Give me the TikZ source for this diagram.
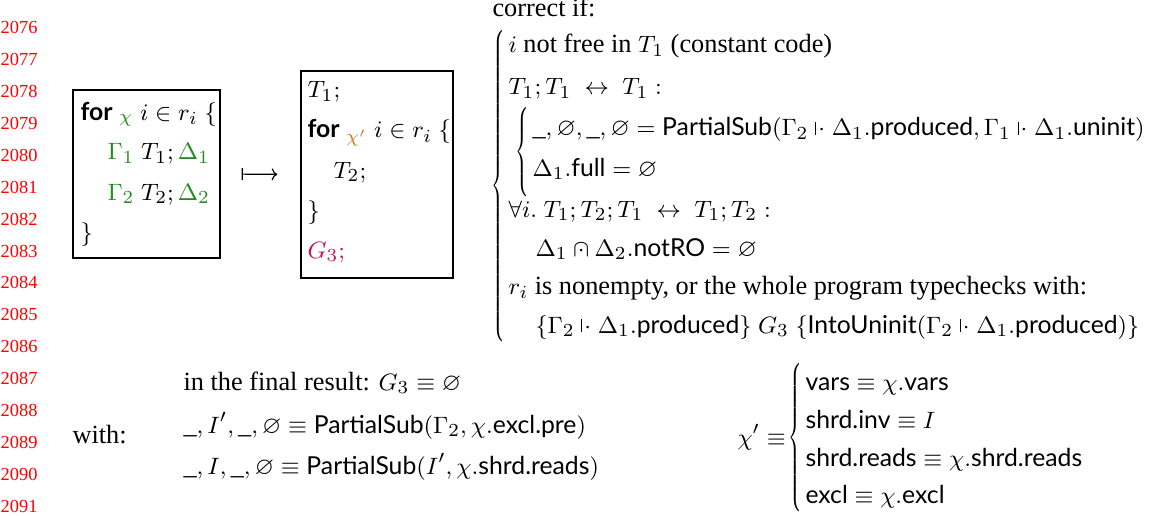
\documentclass[tikz,border=0pt]{standalone}
\usepackage{amsmath,amssymb}
\usepackage{fontspec}
\setmainfont{Liberation Serif}
\setsansfont[Scale=0.94]{Lato}
\DeclareMathSizes{10}{9.4}{6.8}{5}
\usetikzlibrary{arrows.meta,fit}
\definecolor{lnRed}{HTML}{FF0000}
\definecolor{chiGreen}{HTML}{228B22}
\definecolor{chiOrange}{HTML}{CC7A22}
\definecolor{gCrimson}{HTML}{C8124F}
\newcommand{\fn}[1]{\textsf{#1}}
\newcommand{\pvd}{\mathrel{\rule[0.1ex]{0.35pt}{1.1ex}\mkern1.5mu\cdot}}
\newcommand{\capdt}{\mathbin{\text{\ooalign{$\cap$\cr\hidewidth$\cdot$\hidewidth\cr}}}}
\newcommand{\tallbrace}[1]{{\delimiterfactor=1000 \delimitershortfall=0pt \nulldelimiterspace=0pt
  \scalebox{0.6}[1]{$\left\{\vcenter{\hbox{\rule{0pt}{#1}}}\right.$}}}
\tikzset{
  tline/.style={anchor=base west, inner sep=0pt},
  lnum/.style={anchor=base east, inner sep=0pt, text=lnRed, font=\fontsize{7}{8}\selectfont},
  codebox/.style={draw, line width=0.5pt, inner sep=0pt},
  bracenode/.style={anchor=east, inner sep=0pt},
  mapsto/.style={{Bar[width=4.5pt]}-{To[length=2.2pt,width=4.5pt]}, line width=0.45pt}
}
\begin{document}
\begin{tikzpicture}[x=0.38pt, y=-0.38pt, font=\fontsize{10}{12}\selectfont]
  \useasboundingbox (0,0) rectangle (1171,515);
  \foreach \k in {0,...,15} {
    \pgfmathtruncatemacro{\lnr}{2076+\k}
    \node[lnum] (ln\k) at (38, 34+31.87*\k) {\lnr};
  }
  % original loop
  \node[codebox, fit={(73,90) (220,258)}] (box1) {};
  \node[tline] (b1a) at (80,120) {$\textsf{\bfseries for}\ {}_{\color{chiGreen}\chi}\ i \in r_i\ \{$};
  \node[tline] (b1b) at (107,160) {${\color{chiGreen}\Gamma_1}\ T_1; {\color{chiGreen}\Delta_1}$};
  \node[tline] (b1c) at (107,200) {${\color{chiGreen}\Gamma_2}\ T_2; {\color{chiGreen}\Delta_2}$};
  \node[tline] (b1d) at (80,240) {$\}$};
  % rewritten loop
  \node[codebox, fit={(301,71) (453,278)}] (box2) {};
  \node[tline] (b2a) at (307,98) {$T_1;$};
  \node[tline] (b2b) at (307,138) {$\textsf{\bfseries for}\ {}_{\color{chiOrange}\chi'}\ i \in r_i\ \{$};
  \node[tline] (b2c) at (333,178) {$T_2;$};
  \node[tline] (b2d) at (307,218) {$\}$};
  \node[tline, text=gCrimson] (b2e) at (307,258) {$G_3;$};
  \draw[mapsto, shorten <=8pt, shorten >=8.7pt] (box1.east) -- (box2.west);
  % side conditions
  \node[tline] (corr) at (492,17) {correct if:};
  \node[bracenode] (bigbr) at (506,186) {\tallbrace{118pt}};
  \node[tline] (c1) at (508,53) {$i$ not free in $T_1$ (constant code)};
  \node[tline] (c2) at (508,95) {$T_1; T_1\ \leftrightarrow\ T_1:$};
  \node[bracenode] (innbr) at (530,152) {\tallbrace{29pt}};
  \node[tline] (c3) at (532,136) {$\_, \varnothing, \_, \varnothing = \fn{PartialSub}(\Gamma_2 \pvd \Delta_1.\fn{produced}, \Gamma_1 \pvd \Delta_1.\fn{uninit})$};
  \node[tline] (c4) at (532,176) {$\Delta_1.\fn{full} = \varnothing$};
  \node[tline] (c5) at (508,217) {$\forall i.\ T_1;T_2;T_1\ \leftrightarrow\ T_1;T_2:$};
  \node[tline] (c6) at (535,256) {$\Delta_1 \capdt \Delta_2.\fn{notRO} = \varnothing$};
  \node[tline] (c7) at (508,294) {$r_i$ is nonempty, or the whole program typechecks with:};
  \node[tline] (c8) at (535,333) {$\{\Gamma_2 \pvd \Delta_1.\fn{produced}\}\ G_3\ \{\fn{IntoUninit}(\Gamma_2 \pvd \Delta_1.\fn{produced})\}$};
  % definitions
  \node[tline] (with) at (72,443) {with:};
  \node[tline] (w1) at (183,390) {in the final result: $G_3 \equiv \varnothing$};
  \node[tline] (w2) at (183,433) {$\_, I', \_, \varnothing \equiv \fn{PartialSub}(\Gamma_2, \chi.\fn{excl.pre})$};
  \node[tline] (w3) at (183,474) {$\_, I, \_, \varnothing \equiv \fn{PartialSub}(I', \chi.\fn{shrd.reads})$};
  \node[tline] (chidef) at (737,445) {$\chi' \equiv$};
  \node[bracenode] (chibr) at (803,438) {\tallbrace{55pt}};
  \node[tline] (d1) at (805,390) {$\fn{vars} \equiv \chi.\fn{vars}$};
  \node[tline] (d2) at (805,428) {$\fn{shrd.inv} \equiv I$};
  \node[tline] (d3) at (805,466) {$\fn{shrd.reads} \equiv \chi.\fn{shrd.reads}$};
  \node[tline] (d4) at (805,503) {$\fn{excl} \equiv \chi.\fn{excl}$};
\end{tikzpicture}
\end{document}
